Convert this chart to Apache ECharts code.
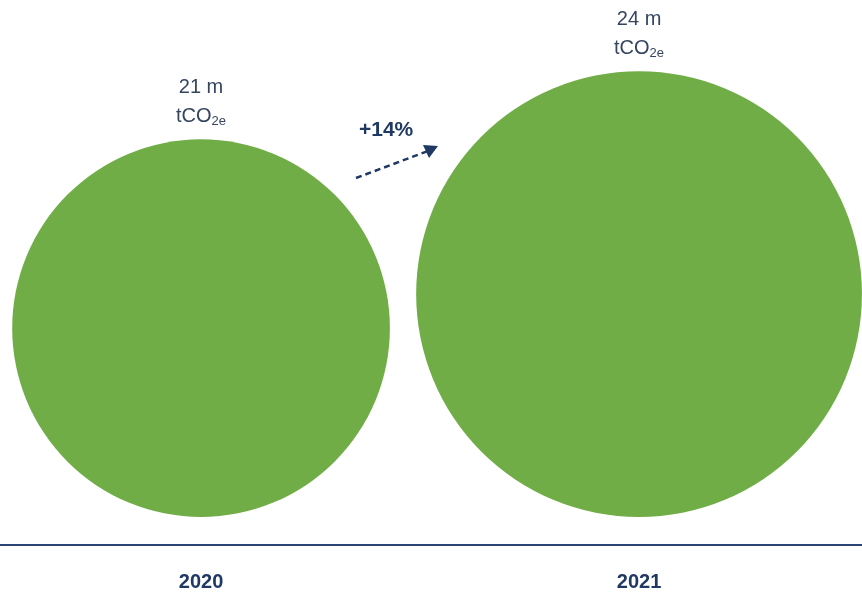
<!DOCTYPE html>
<html>
<head>
<meta charset="utf-8">
<script src="https://cdn.jsdelivr.net/npm/echarts@6/dist/echarts.min.js"></script>
<style>
  html, body { margin: 0; padding: 0; background: #ffffff; }
  #chart { width: 862px; height: 596px; }
</style>
</head>
<body>
<div id="chart"></div>
<script>
// Emissions per year, million tCO2e
const years = ['2020', '2021'];
const emissions = [21, 24];
const changeLabel = '+14%';

const green = '#70ad47';
const navy = '#1f3864';
const labelGray = '#354560';
const font = 'Liberation Sans, Arial, sans-serif';

// bubble diameter grows with the value
const diameter = v => 22.7 * v - 99;

const chart = echarts.init(document.getElementById('chart'));

chart.setOption({
  animation: false,
  grid: { left: 0, right: 0, top: 0, bottom: 51 },
  xAxis: {
    type: 'value',
    min: -0.459,
    max: 1.509,
    splitLine: { show: false },
    axisLine: { show: true, onZero: false, lineStyle: { color: '#2b4575', width: 2 } },
    axisTick: { show: false },
    axisLabel: {
      customValues: years.map((y, i) => i),
      formatter: v => years[v],
      margin: 27,
      color: navy,
      fontFamily: font,
      fontWeight: 'bold',
      fontSize: 20
    }
  },
  yAxis: { type: 'value', min: -28, max: 517, show: false },
  series: [{
    type: 'scatter',
    data: emissions.map((v, i) => [i, 0, v]),
    symbol: 'circle',
    symbolSize: d => diameter(d[2]),
    symbolOffset: [0, '-50%'],
    itemStyle: { color: green, opacity: 1 },
    label: {
      show: true,
      position: 'top',
      distance: 8,
      formatter: p => '{a|' + p.value[2] + ' m}\n{a|tCO}{s|2e}',
      rich: {
        a: { color: labelGray, fontFamily: font, fontSize: 20, lineHeight: 29 },
        s: { color: labelGray, fontFamily: font, fontSize: 13, lineHeight: 29, padding: [10, 0, 0, 0] }
      }
    }
  }],
  graphic: [
    {
      type: 'text',
      left: 359, top: 120,
      style: {
        text: changeLabel,
        fill: navy,
        font: 'bold 21px "Liberation Sans", Arial, sans-serif'
      }
    },
    {
      type: 'line',
      shape: { x1: 356, y1: 178, x2: 428, y2: 151 },
      style: { stroke: navy, lineWidth: 2.5, lineDash: [6, 4] }
    },
    {
      type: 'polygon',
      shape: { points: [[438, 146], [423, 145], [429, 158]] },
      style: { fill: navy }
    }
  ]
});
</script>
</body>
</html>
